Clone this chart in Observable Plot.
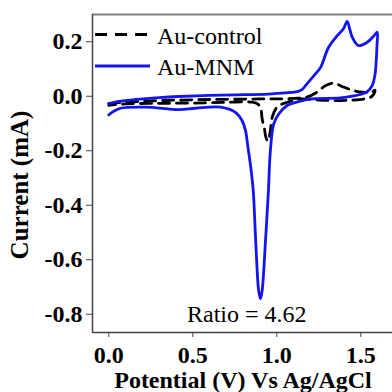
<!DOCTYPE html>
<html>
<head>
<meta charset="utf-8">
<script src="https://cdn.jsdelivr.net/npm/d3@7"></script>
<script src="https://cdn.jsdelivr.net/npm/@observablehq/plot@0.6"></script>
<style>
  html, body { margin: 0; padding: 0; background: white; overflow: hidden; }
  svg text { font-family: "Liberation Serif", "Times New Roman", serif; }
  g[aria-label="x-axis tick label"] text, g[aria-label="y-axis tick label"] text { font-weight: bold; }
</style>
</head>
<body>
<div id="chart"></div>
<script>
// ---- data ----
const xTicks = [0.0, 0.5, 1.0, 1.5];
const yTicks = [-0.8, -0.6, -0.4, -0.2, 0.0, 0.2];
const seriesNames = ["Au-control", "Au-MNM"];
const ratioLabel = "Ratio = 4.62";

// Au-control (potential V, current mA)
const controlV = [0.00, 0.10, 0.30, 0.60, 0.90, 1.10, 1.18, 1.24, 1.29, 1.339, 1.389, 1.457, 1.508, 1.56, 1.585,
                  1.575, 1.558, 1.52, 1.45, 1.36, 1.25, 1.141, 1.062, 1.002, 0.973, 0.962, 0.948, 0.935, 0.927, 0.913, 0.905, 0.89, 0.854, 0.70, 0.50, 0.30, 0.10, 0.00];
const controlI = [-0.026, -0.022, -0.016, -0.012, -0.010, -0.008, -0.003, 0.015, 0.039, 0.048, 0.036, 0.021, 0.015, 0.014, 0.022,
                  0.005, -0.004, -0.010, -0.014, -0.016, -0.014, -0.010, -0.022, -0.040, -0.077, -0.126, -0.165, -0.150, -0.120, -0.083, -0.045, -0.030, -0.022, -0.022, -0.025, -0.026, -0.028, -0.033];

// Au-MNM
const mnmV = [0.00, 0.05, 0.159, 0.30, 0.415, 0.60, 0.754, 0.95, 1.05, 1.129, 1.15, 1.171, 1.22, 1.26, 1.308, 1.361, 1.397, 1.419, 1.435, 1.449, 1.486, 1.538, 1.576, 1.598,
              1.597, 1.592, 1.585, 1.568, 1.54, 1.516, 1.45, 1.379, 1.20, 1.141, 1.062, 1.012, 0.982, 0.962, 0.950, 0.933, 0.913, 0.903, 0.892, 0.880, 0.870, 0.860, 0.845, 0.828, 0.814, 0.794, 0.754, 0.665, 0.516, 0.417, 0.218, 0.07, 0.03, 0.00];
const mnmI = [-0.028, -0.020, -0.012, -0.005, -0.001, 0.003, 0.005, 0.008, 0.012, 0.018, 0.024, 0.039, 0.075, 0.105, 0.179, 0.223, 0.248, 0.275, 0.245, 0.217, 0.186, 0.198, 0.220, 0.235,
              0.190, 0.130, 0.080, 0.039, 0.018, 0.010, 0.000, -0.006, -0.010, -0.018, -0.034, -0.065, -0.101, -0.200, -0.350, -0.530, -0.713, -0.743, -0.713, -0.600, -0.470, -0.346, -0.260, -0.185, -0.126, -0.090, -0.059, -0.040, -0.044, -0.049, -0.040, -0.044, -0.055, -0.068];

const control = controlV.map((v, k) => ({v, i: controlI[k]}));
const mnm = mnmV.map((v, k) => ({v, i: mnmI[k]}));

const xDomain = [-0.097, 1.689];
const yDomain = [-0.867, 0.300];
const blue = "#1414f0";
const fmt = d => d.toFixed(1);

const plot = Plot.plot({
  width: 392,
  height: 392,
  marginLeft: 92,
  marginRight: 0,
  marginTop: 14,
  marginBottom: 60,
  x: {domain: xDomain},
  y: {domain: yDomain},
  style: {fontFamily: "Liberation Serif", background: "white", overflow: "visible"},
  marks: [
    Plot.ruleY([yDomain[1]], {stroke: "#808080", strokeWidth: 2}),
    Plot.line(control, {x: "v", y: "i", stroke: "black", strokeWidth: 2.8, strokeDasharray: "11,7", curve: "catmull-rom"}),
    Plot.line(mnm, {x: "v", y: "i", stroke: blue, strokeWidth: 2.8, curve: "catmull-rom"}),
    Plot.axisX({ticks: xTicks, tickFormat: fmt, tickSize: 5, tickPadding: 8, fontSize: 24, fontWeight: "bold", label: null, stroke: "#444", fill: "black"}),
    Plot.axisY({ticks: yTicks, tickFormat: fmt, tickSize: 6, tickPadding: 4, fontSize: 24, fontWeight: "bold", label: null, stroke: "#444", fill: "black"}),
    Plot.ruleX([xDomain[0]], {stroke: "#444", strokeWidth: 1.5}),
    Plot.ruleY([yDomain[0]], {stroke: "#444", strokeWidth: 1.5})
  ]
});

const svg = d3.select(plot);

// axis titles
svg.append("text")
  .attr("x", 243).attr("y", 388)
  .attr("text-anchor", "middle")
  .attr("font-size", 24).attr("font-weight", "bold").attr("fill", "black")
  .text("Potential (V) Vs Ag/AgCl");
svg.append("text")
  .attr("transform", "translate(28,185) rotate(-90)")
  .attr("text-anchor", "middle")
  .attr("font-size", 25).attr("font-weight", "bold").attr("fill", "black")
  .text("Current (mA)");

// legend
const legend = svg.append("g").attr("text-anchor", "start");
legend.append("line").attr("x1", 95).attr("x2", 150).attr("y1", 34.5).attr("y2", 34.5)
  .attr("stroke", "black").attr("stroke-width", 2.8).attr("stroke-dasharray", "12,8");
legend.append("text").attr("x", 157).attr("y", 43.5).attr("text-anchor", "start").attr("font-size", 24).attr("fill", "black").text(seriesNames[0]);
legend.append("line").attr("x1", 95).attr("x2", 150).attr("y1", 66).attr("y2", 66)
  .attr("stroke", blue).attr("stroke-width", 2.8);
legend.append("text").attr("x", 157).attr("y", 75).attr("text-anchor", "start").attr("font-size", 24).attr("fill", "black").text(seriesNames[1]);

// ratio annotation
svg.append("text").attr("x", 187).attr("y", 322).attr("text-anchor", "start").attr("font-size", 24).attr("fill", "black").text(ratioLabel);

document.getElementById("chart").appendChild(plot);
</script>
</body>
</html>
